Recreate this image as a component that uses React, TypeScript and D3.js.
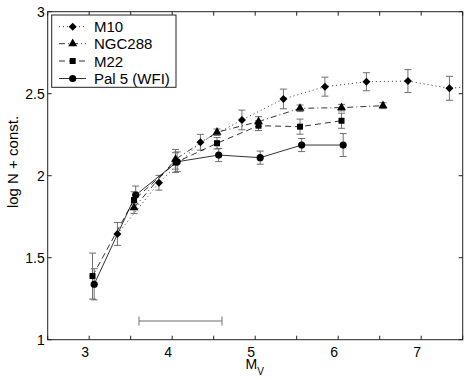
import React, { useRef, useEffect } from 'react';
import * as d3 from 'd3';

// magnitude bins and log counts
const m10X = [3.34, 3.84, 4.34, 4.84, 5.34, 5.84, 6.34, 6.84, 7.34, 7.84];
const m10Y = [1.645, 1.957, 2.204, 2.34, 2.468, 2.543, 2.573, 2.577, 2.533, 2.555];
const m10Err = [0.07, 0.045, 0.048, 0.06, 0.06, 0.058, 0.055, 0.07, 0.073, 0.07];

const ngcX = [3.54, 4.04, 4.54, 5.04, 5.54, 6.04, 6.54];
const ngcY = [1.805, 2.1, 2.265, 2.33, 2.411, 2.415, 2.427];
const ngcErr = [0.035, 0.06, 0.02, 0.03, 0.02, 0.02, 0.018];

const m22X = [3.04, 3.54, 4.04, 4.54, 5.04, 5.54, 6.04];
const m22Y = [1.388, 1.852, 2.08, 2.198, 2.305, 2.299, 2.335];
const m22Err = [0.14, 0.05, 0.06, 0.035, 0.03, 0.046, 0.046];

const pal5X = [3.06, 3.56, 4.06, 4.56, 5.06, 5.56, 6.06];
const pal5Y = [1.338, 1.882, 2.085, 2.126, 2.11, 2.187, 2.187];
const pal5Err = [0.095, 0.055, 0.06, 0.04, 0.04, 0.04, 0.07];

const seriesNames = ['M10', 'NGC288', 'M22', 'Pal 5 (WFI)'];

const xTicks = [2.5, 3, 3.5, 4, 4.5, 5, 5.5, 6, 6.5, 7, 7.5];
const xLabels = [3, 4, 5, 6, 7];
const yTicks = [1, 1.5, 2, 2.5, 3];

// horizontal bar near the bottom (mag range)
const rangeBar = [3.6, 4.6];
const rangeBarY = 1.114;

export default function App() {
  const ref = useRef<SVGSVGElement>(null);

  useEffect(() => {
    const width = 469;
    const height = 380;
    const left = 47.7;
    const right = 462.7;
    const top = 11.7;
    const bottom = 339.7;
    const font = '"Liberation Sans", Arial, Helvetica, sans-serif';

    const x = d3.scaleLinear().domain([2.5, 7.5]).range([left, right]);
    const y = d3.scaleLinear().domain([1, 3]).range([bottom, top]);

    const svg = d3.select(ref.current);
    svg.selectAll('*').remove();
    svg.attr('width', width).attr('height', height);

    svg.append('rect').attr('width', width).attr('height', height).attr('fill', 'white');

    svg.append('clipPath').attr('id', 'plotclip')
      .append('rect')
      .attr('x', left).attr('y', top)
      .attr('width', right - left).attr('height', bottom - top);

    const plot = svg.append('g').attr('clip-path', 'url(#plotclip)');

    const diamond = (s: number) => `M0,${-s}L${s},0L0,${s}L${-s},0Z`;
    const series = [
      { xs: m10X, ys: m10Y, err: m10Err, dash: '1,3', marker: 'diamond' },
      { xs: ngcX, ys: ngcY, err: ngcErr, dash: '6,3,1,3', marker: 'triangle' },
      { xs: m22X, ys: m22Y, err: m22Err, dash: '6,4', marker: 'square' },
      { xs: pal5X, ys: pal5Y, err: pal5Err, dash: null, marker: 'circle' },
    ];

    const drawMarker = (g: any, kind: string, cx: number, cy: number) => {
      if (kind === 'circle') {
        g.append('circle').attr('cx', cx).attr('cy', cy).attr('r', 3.6).attr('fill', 'black');
      } else if (kind === 'diamond') {
        g.append('path').attr('d', diamond(4)).attr('transform', `translate(${cx},${cy})`).attr('fill', 'black');
      } else if (kind === 'triangle') {
        g.append('path').attr('d', d3.symbol(d3.symbolTriangle, 34)()).attr('transform', `translate(${cx},${cy})`).attr('fill', 'black');
      } else {
        g.append('rect').attr('x', cx - 3).attr('y', cy - 3).attr('width', 6).attr('height', 6).attr('fill', 'black');
      }
    };

    series.forEach(s => {
      const pts = s.xs.map((v, i) => [x(v), y(s.ys[i])] as [number, number]);
      // error bars
      s.xs.forEach((v, i) => {
        const cx = x(v);
        const y0 = y(s.ys[i] - s.err[i]);
        const y1 = y(s.ys[i] + s.err[i]);
        const eb = plot.append('g').attr('stroke', '#6e6e6e').attr('stroke-width', 1);
        eb.append('line').attr('x1', cx).attr('x2', cx).attr('y1', y0).attr('y2', y1);
        eb.append('line').attr('x1', cx - 3.5).attr('x2', cx + 3.5).attr('y1', y0).attr('y2', y0);
        eb.append('line').attr('x1', cx - 3.5).attr('x2', cx + 3.5).attr('y1', y1).attr('y2', y1);
      });
      plot.append('path')
        .attr('d', d3.line()(pts))
        .attr('fill', 'none')
        .attr('stroke', 'black')
        .attr('stroke-width', 0.8)
        .attr('stroke-dasharray', s.dash);
    });
    series.forEach(s => {
      s.xs.forEach((v, i) => drawMarker(plot, s.marker, x(v), y(s.ys[i])));
    });

    // magnitude range bar
    const rb = svg.append('g').attr('stroke', '#6e6e6e').attr('stroke-width', 1);
    const ry = y(rangeBarY);
    rb.append('line').attr('x1', x(rangeBar[0])).attr('x2', x(rangeBar[1])).attr('y1', ry).attr('y2', ry);
    rangeBar.forEach(v => {
      rb.append('line').attr('x1', x(v)).attr('x2', x(v)).attr('y1', ry - 4.5).attr('y2', ry + 4.5);
    });

    // axes box and ticks
    const ax = svg.append('g').attr('stroke', '#222').attr('stroke-width', 1);
    ax.append('rect').attr('x', left).attr('y', top).attr('width', right - left).attr('height', bottom - top).attr('fill', 'none');
    xTicks.forEach(t => {
      ax.append('line').attr('x1', x(t)).attr('x2', x(t)).attr('y1', bottom).attr('y2', bottom - 4);
      ax.append('line').attr('x1', x(t)).attr('x2', x(t)).attr('y1', top).attr('y2', top + 4);
    });
    yTicks.forEach(t => {
      ax.append('line').attr('x1', left).attr('x2', left + 4).attr('y1', y(t)).attr('y2', y(t));
      ax.append('line').attr('x1', right).attr('x2', right - 4).attr('y1', y(t)).attr('y2', y(t));
    });

    const txt = svg.append('g').attr('font-family', font).attr('font-size', 14).attr('fill', 'black');
    xLabels.forEach(t => {
      txt.append('text').attr('x', x(t) - 4).attr('y', bottom + 17).attr('text-anchor', 'middle').text(t);
    });
    yTicks.forEach(t => {
      txt.append('text').attr('x', left - 3).attr('y', y(t) + 5).attr('text-anchor', 'end').text(t);
    });

    const xl = txt.append('text').attr('x', 245.5).attr('y', 369);
    xl.append('tspan').text('M');
    xl.append('tspan').attr('font-size', 10).attr('dy', 6).text('V');

    txt.append('text')
      .attr('transform', `translate(18,${162}) rotate(-90)`)
      .attr('text-anchor', 'middle')
      .attr('font-size', 15)
      .text('log N + const.');

    // legend
    const lg = svg.append('g');
    lg.append('rect').attr('x', 51.7).attr('y', 15).attr('width', 124.3).attr('height', 72.3)
      .attr('fill', 'white').attr('stroke', '#222').attr('stroke-width', 1);
    const rowsY = [26.7, 43.7, 61, 78.5];
    series.forEach((s, i) => {
      const yy = rowsY[i];
      lg.append('line').attr('x1', 59).attr('x2', 86).attr('y1', yy).attr('y2', yy)
        .attr('stroke', 'black').attr('stroke-width', 0.8).attr('stroke-dasharray', s.dash);
      drawMarker(lg, s.marker, 72.7, yy);
      lg.append('text').attr('x', 94).attr('y', yy + 5.5)
        .attr('font-family', font).attr('font-size', 15).text(seriesNames[i]);
    });
  }, []);

  return <svg ref={ref} style={{ position: 'absolute', left: 0, top: 0 }} />;
}
